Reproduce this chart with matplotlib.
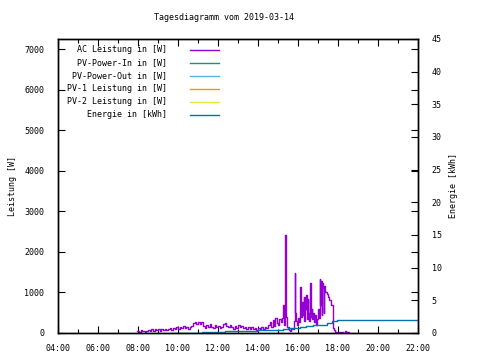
import matplotlib
matplotlib.use("Agg")
import matplotlib.pyplot as plt
from matplotlib.ticker import MultipleLocator, FuncFormatter

# AC Leistung in [W]
ac_time = ["07:56", "08:00", "08:04", "08:08", "08:12", "08:16", "08:20", "08:25", "08:30", "08:35",
           "08:40", "08:45", "08:50", "08:55", "09:00", "09:05", "09:10", "09:15", "09:20", "09:25",
           "09:30", "09:35", "09:40", "09:45", "09:50", "09:55", "10:00", "10:05", "10:10", "10:15",
           "10:20", "10:25", "10:30", "10:35", "10:40", "10:45", "10:50", "10:55", "11:00", "11:05",
           "11:10", "11:15", "11:20", "11:25", "11:30", "11:35", "11:40", "11:45", "11:50", "11:55",
           "12:00", "12:05", "12:10", "12:15", "12:20", "12:25", "12:30", "12:35", "12:40", "12:45",
           "12:50", "12:55", "13:00", "13:05", "13:10", "13:15", "13:20", "13:25", "13:30", "13:35",
           "13:40", "13:45", "13:50", "13:55", "14:00", "14:05", "14:10", "14:15", "14:20", "14:25",
           "14:30", "14:35", "14:40", "14:44", "14:48", "14:52", "14:56", "15:00", "15:04", "15:08",
           "15:12", "15:15", "15:18", "15:21", "15:23", "15:25", "15:28", "15:32", "15:36", "15:40",
           "15:44", "15:47", "15:50", "15:52", "15:55", "15:58", "16:01", "16:04", "16:06", "16:08",
           "16:10", "16:13", "16:15", "16:17", "16:19", "16:21", "16:23", "16:25", "16:27", "16:29",
           "16:31", "16:34", "16:37", "16:39", "16:41", "16:43", "16:45", "16:48", "16:51", "16:54",
           "16:57", "17:00", "17:03", "17:05", "17:07", "17:09", "17:11", "17:13", "17:15", "17:17",
           "17:19", "17:22", "17:26", "17:30", "17:34", "17:38", "17:42", "17:46", "17:49", "17:52",
           "17:56", "18:00", "18:05", "18:10", "18:15", "18:20", "18:25", "18:30", "18:34"]
ac_watt = [40, 60, 30, 70, 40, 60, 30, 50, 80, 40,
           90, 60, 100, 70, 90, 60, 100, 80, 110, 70,
           90, 120, 80, 130, 100, 150, 110, 160, 120, 170,
           130, 150, 110, 140, 180, 250, 280, 220, 260, 230,
           270, 180, 130, 200, 150, 210, 160, 120, 190, 140,
           170, 120, 160, 220, 250, 180, 140, 200, 150, 110,
           170, 130, 190, 140, 170, 120, 160, 110, 150, 100,
           140, 90, 130, 80, 120, 90, 140, 100, 160, 120,
           200, 260, 150, 320, 180, 370, 250, 200, 340, 260,
           380, 690, 200, 2414, 1550, 400, 150, 75, 60, 90,
           110, 300, 1480, 500, 300, 200, 380, 260, 1140, 700,
           400, 760, 450, 880, 300, 900, 600, 930, 350, 830,
           500, 300, 1230, 400, 600, 350, 500, 260, 450, 200,
           350, 600, 380, 1330, 700, 1280, 450, 1230, 1100, 500,
           1150, 1000, 950, 900, 820, 700, 700, 120, 80, 30,
           10, 20, 0, 30, 10, 40, 20, 30, 10]

# Energie in [kWh]
en_time = ["09:41", "10:30", "11:11", "11:40", "12:21", "13:20", "14:00", "14:56", "15:15", "15:30",
           "15:46", "16:06", "16:25", "16:46", "17:05", "17:26", "17:41", "17:56", "22:00"]
en_kwh = [0.0, 0.05, 0.15, 0.2, 0.3, 0.35, 0.4, 0.45, 0.6, 0.7,
          0.8, 0.9, 1.0, 1.15, 1.3, 1.55, 1.8, 1.95, 1.95]

# series without data on this day
pv_in = []
pv_out = []
pv1 = []
pv2 = []


def hours(t):
    h, m = t.split(":")
    return int(h) + int(m) / 60.0


ac_x = [hours(t) for t in ac_time]
en_x = [hours(t) for t in en_time]

plt.rcParams['font.family'] = ['DejaVu Sans Mono']
fs = 6

fig = plt.figure(figsize=(4.8, 3.6), dpi=100)
ax = fig.add_axes([58 / 480, 27 / 360, 360 / 480, 294 / 360])
ax2 = ax.twinx()

l_ac, = ax.plot(ac_x, ac_watt, color='#9400d3', lw=1.0, drawstyle='steps-post')
l_in, = ax.plot(pv_in, pv_in, color='#009e73', lw=1.0)
l_out, = ax.plot(pv_out, pv_out, color='#56b4e9', lw=1.0)
l_p1, = ax.plot(pv1, pv1, color='#e69f00', lw=1.0)
l_p2, = ax.plot(pv2, pv2, color='#f0e442', lw=1.0)
l_en, = ax2.plot(en_x, en_kwh, color='#0072b2', lw=1.0, drawstyle='steps-post')

ax.set_xlim(4, 22)
ax.set_ylim(0, 7250)
ax2.set_ylim(0, 45)

ax.xaxis.set_major_locator(MultipleLocator(2))
ax.xaxis.set_minor_locator(MultipleLocator(1))
ax.xaxis.set_major_formatter(FuncFormatter(lambda v, p: "%02d:00" % int(round(v))))
ax.yaxis.set_major_locator(MultipleLocator(1000))
ax2.yaxis.set_major_locator(MultipleLocator(5))

ax.tick_params(axis='both', which='both', direction='in', top=True, right=True,
               labelsize=fs, width=0.8)
ax.tick_params(axis='x', which='major', length=5, pad=8)
ax.tick_params(axis='x', which='minor', length=3)
ax.tick_params(axis='y', which='major', length=5, pad=10)
ax2.tick_params(axis='y', direction='in', length=5, labelsize=fs, pad=10, width=0.8)

for a in (ax, ax2):
    for s in a.spines.values():
        s.set_linewidth(1.0)

ax.set_ylabel("Leistung [W]", fontsize=fs, labelpad=5)
ax2.set_ylabel("Energie [kWh]", fontsize=fs, labelpad=5)

handles = [l_ac, l_in, l_out, l_p1, l_p2, l_en]
labels = ["AC Leistung in [W]", "PV-Power-In in [W]", "PV-Power-Out in [W]",
          "PV-1 Leistung in [W]", "PV-2 Leistung in [W]", "Energie in [kWh]"]
leg = ax2.legend(handles, labels, loc='upper left', bbox_to_anchor=(0.011, 0.995),
                 markerfirst=False, frameon=False, fontsize=fs, handlelength=3.4,
                 handletextpad=2.8, labelspacing=0.48, borderaxespad=0.2)

fig.text(224 / 480, 1 - 18 / 360, "Tagesdiagramm vom 2019-03-14", ha='center', va='center',
         fontsize=fs)

fig.savefig("out.png", dpi=100)
